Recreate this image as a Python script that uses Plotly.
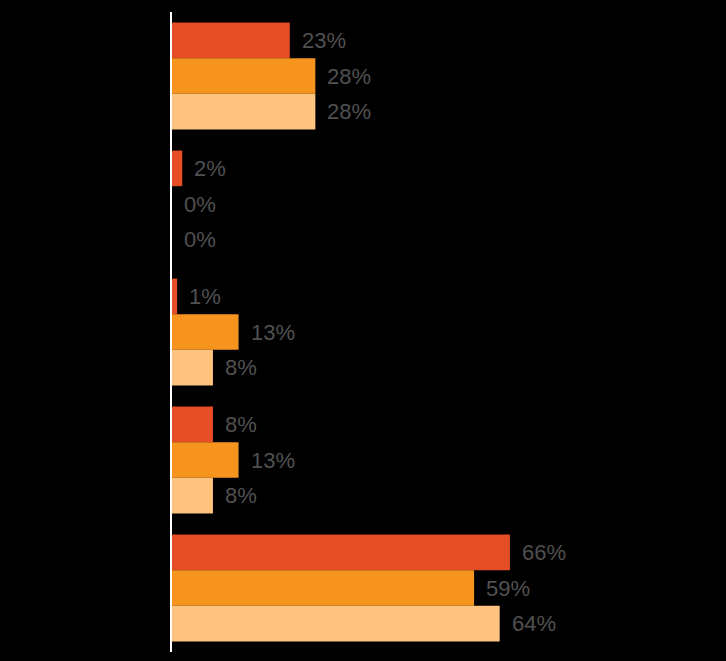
import plotly.graph_objects as go

categories = ["Group 1", "Group 2", "Group 3", "Group 4", "Group 5"]
series_names = ["Series A", "Series B", "Series C"]
series_a = [0.23, 0.02, 0.01, 0.08, 0.66]
series_b = [0.28, 0.00, 0.13, 0.13, 0.59]
series_c = [0.28, 0.00, 0.08, 0.08, 0.64]
colors = ["#E44D25", "#F7941E", "#FDC37F"]

fig = go.Figure()
for name, vals, col in zip(series_names, [series_a, series_b, series_c], colors):
    fig.add_trace(go.Bar(
        y=categories, x=vals, name=name, orientation="h",
        marker=dict(color=col, line=dict(width=0)),
        textposition="none",
        hoverinfo="x+y",
    ))

# value labels placed just right of each bar end
offsets = [-1, 0, 1]
for vals, off in zip([series_a, series_b, series_c], offsets):
    for i, v in enumerate(vals):
        fig.add_annotation(
            x=v, y=i + off * (0.835 / 3), xref="x", yref="y",
            text=f"{round(v*100)}%", showarrow=False,
            xanchor="left", yanchor="middle", xshift=10,
            font=dict(family="Liberation Sans, Arial, sans-serif", size=22, color="#505050"),
        )

fig.update_layout(
    width=726, height=661,
    paper_bgcolor="black", plot_bgcolor="black",
    barmode="group", bargap=0.165, bargroupgap=0,
    showlegend=False,
    margin=dict(l=172, r=0, t=12, b=9),
    xaxis=dict(range=[0, 1.082], visible=False, showgrid=False, zeroline=False),
    yaxis=dict(
        type="category", autorange="reversed",
        showticklabels=False, showgrid=False, zeroline=False,
        showline=True, linecolor="white", linewidth=1.5, ticks="",
    ),
)

fig.write_html(
    "out.html",
    config={"displayModeBar": False},
    post_script="document.body.style.margin='0';document.body.style.background='black';",
)
